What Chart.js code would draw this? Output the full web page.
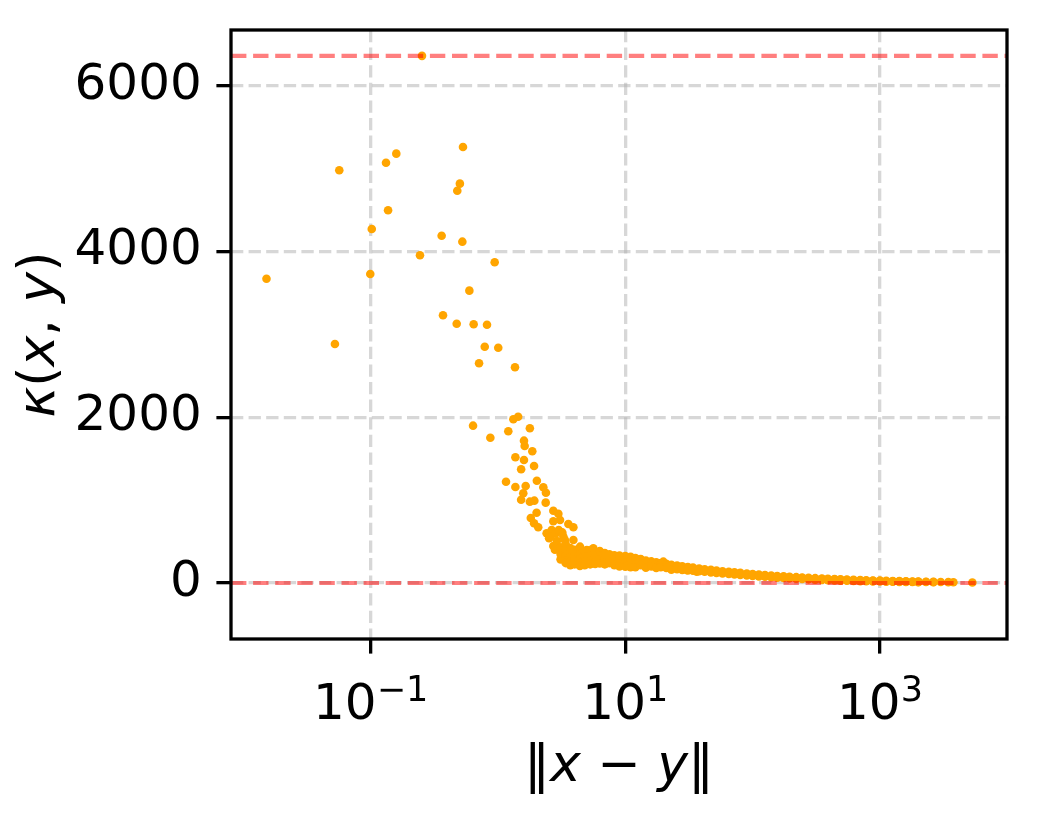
<!DOCTYPE html>
<html>
<head>
<meta charset="utf-8">
<script src="https://cdn.jsdelivr.net/npm/chart.js@4.4.1/dist/chart.umd.min.js"></script>
<style>
  html, body { margin: 0; padding: 0; background: #fff; }
  canvas { display: block; }
</style>
</head>
<body>
<canvas id="kernelChart" width="1037" height="828"></canvas>
<script>
// axis ticks
const xTicks = [0.1, 10, 1000];
const xTickExp = ['\u22121', '1', '3'];
const yTicks = [0, 2000, 4000, 6000];
// dashed red reference lines (kappa = 0 and kappa = max)
const refLines = [0, 6360];

// scattered points, [||x - y||, kappa]
const sparsePoints = [
  [0.253, 6360], [0.531, 5260], [0.159, 5180], [0.132, 5071], [0.0567, 4979],
  [0.502, 4818], [0.479, 4733], [0.137, 4497], [0.102, 4271], [0.361, 4190],
  [0.525, 4118], [0.244, 3954], [0.942, 3869], [0.0152, 3671], [0.0993, 3728],
  [0.596, 3527], [0.370, 3230], [0.474, 3128], [0.644, 3121], [0.820, 3116],
  [0.0524, 2884], [0.787, 2851], [1.005, 2839], [0.710, 2651], [1.36, 2602],
  [1.44, 2006], [1.32, 1975], [0.637, 1898], [1.78, 1866], [1.205, 1830],
  [0.871, 1753], [1.60, 1717], [1.62, 1653], [1.86, 1589], [1.37, 1517],
  [1.60, 1484], [1.92, 1412], [1.52, 1372], [1.156, 1222], [2.02, 1234],
  [1.37, 1158], [1.65, 1170], [2.27, 1155], [1.58, 1082], [2.38, 1089],
  [1.52, 1005], [1.78, 981], [1.93, 993], [2.37, 969], [2.72, 872],
  [2.98, 836], [2.01, 848], [1.81, 784], [1.92, 720], [2.07, 672],
  [2.72, 744], [3.07, 760], [2.64, 639], [2.41, 600], [2.52, 539],
  [3.57, 712], [3.91, 672], [3.26, 559], [2.72, 446], [3.42, 419],
  [3.91, 519], [4.41, 438], [3.68, 358], [4.15, 298], [4.98, 398],
  [5.61, 419], [5.45, 317], [6.33, 298], [7.14, 238], [8.56, 277],
  [10.9, 298], [13.1, 286], [11.6, 197], [16.6, 217], [19.9, 257],
  [23.8, 197], [30.3, 157], [36.4, 136], [2.85, 600], [2.9, 505],
  [2.6, 560], [3.0, 640], [3.2, 610], [3.35, 520], [2.8, 400]
];

// dense tail: distance and the kappa values seen at that distance
const tailDist = [
  3.1, 3.4, 3.7, 4.0, 4.4, 4.8, 5.3, 5.8, 6.3, 6.9, 7.5, 8.2, 9.0, 10, 11, 12,
  13.2, 14.5, 16, 17.5, 19, 21, 23, 25.5, 28, 31, 34, 38, 42, 47, 52, 58, 65,
  72, 80, 90, 100, 112, 125, 140, 156, 175, 195, 220, 245, 275, 310, 350, 390,
  440, 490, 550, 620, 700, 780, 880, 1000, 1120, 1260, 1420, 1600, 1800, 2000,
  2300, 2630, 3000, 3445, 3774, 5320
];
const tailKappa = [
  [430, 350, 285], [470, 400, 330, 265, 240], [420, 380, 310, 260, 215],
  [400, 340, 280, 225], [410, 350, 290, 240, 205], [380, 320, 260, 215],
  [395, 330, 270, 225], [370, 310, 255, 230], [385, 330, 280, 235],
  [360, 300, 250, 225], [345, 290, 240], [335, 285, 245, 215],
  [330, 275, 230, 200], [325, 280, 240, 195], [315, 265, 225, 190],
  [300, 255, 220, 190], [290, 250, 215], [270, 240, 205, 185], [260, 230, 200],
  [250, 225, 195, 180], [240, 215, 190], [230, 205, 180], [220, 200, 175, 160],
  [210, 190, 165], [200, 180, 158], [192, 172, 152], [185, 165, 148],
  [175, 158, 142], [165, 150, 135], [158, 142, 128], [150, 135, 120],
  [142, 128, 114], [135, 120, 108], [128, 115, 102], [122, 110, 96],
  [115, 104, 92], [108, 98, 86], [102, 92, 80], [96, 86, 75], [90, 80, 70],
  [85, 75, 65], [80, 70, 60], [75, 66, 56], [70, 62, 52], [66, 58, 48],
  [62, 54, 44], [58, 50, 40], [54, 46, 37], [50, 43, 34], [46, 40, 31],
  [43, 37, 28], [40, 34, 26], [37, 31, 24], [34, 29, 22], [32, 27, 20],
  [30, 25, 18], [28, 23, 17], [26, 21, 15], [24, 19, 14], [22, 18, 13],
  [20, 16, 12], [18, 14, 11], [16, 13, 10], [15, 12], [13, 10], [12], [10],
  [9], [6]
];

const X_MIN = 0.008, X_MAX = 9950;
const Y_MIN = -676, Y_MAX = 6672;

const points = sparsePoints.map(([x, y]) => ({ x, y }));
tailDist.forEach((d, i) => {
  tailKappa[i].forEach(k => points.push({ x: d, y: k }));
});

const FONT = '"DejaVu Sans"';
const xTitleParts = [['\u2016', ''], ['x', 'italic '], [' \u2212 ', ''], ['y', 'italic '], ['\u2016', '']];
const yTitleParts = [['\u03ba', 'italic '], ['(', ''], ['x', 'italic '], [', ', ''], ['y', 'italic '], [')', '']];

function drawParts(ctx, parts, size) {
  let total = 0;
  parts.forEach(([t, st]) => { ctx.font = st + size + 'px ' + FONT; total += ctx.measureText(t).width; });
  let x = -total / 2;
  parts.forEach(([t, st]) => {
    ctx.font = st + size + 'px ' + FONT;
    ctx.fillText(t, x, 0);
    x += ctx.measureText(t).width;
  });
}

const frame = {
  id: 'frame',
  afterDraw(chart) {
    const { ctx, chartArea: a, scales } = chart;
    ctx.save();
    ctx.strokeStyle = '#000';
    ctx.lineWidth = 3.3;
    ctx.strokeRect(a.left, a.top, a.right - a.left, a.bottom - a.top);

    ctx.fillStyle = '#000';
    ctx.textAlign = 'left';
    ctx.textBaseline = 'alphabetic';
    xTicks.forEach((v, i) => {
      const px = scales.x.getPixelForValue(v);
      ctx.font = '50px ' + FONT;
      const wBase = ctx.measureText('10').width;
      ctx.font = '35px ' + FONT;
      const wExp = ctx.measureText(xTickExp[i]).width;
      const x0 = px - (wBase + wExp) / 2;
      ctx.font = '50px ' + FONT;
      ctx.fillText('10', x0, 719);
      ctx.font = '35px ' + FONT;
      ctx.fillText(xTickExp[i], x0 + wBase, 701);
    });

    ctx.save();
    ctx.translate((a.left + a.right) / 2, 781);
    drawParts(ctx, xTitleParts, 52);
    ctx.restore();

    ctx.save();
    ctx.translate(54, (a.top + a.bottom) / 2);
    ctx.rotate(-Math.PI / 2);
    drawParts(ctx, yTitleParts, 52);
    ctx.restore();
    ctx.restore();
  }
};

const gridOpts = {
  color: 'rgba(176,176,176,0.5)',
  lineWidth: 3.3,
  tickLength: 14.6,
  tickWidth: 3.3,
  tickColor: '#000'
};

new Chart(document.getElementById('kernelChart'), {
  type: 'scatter',
  data: {
    datasets: [
      ...refLines.map(v => ({
        type: 'line',
        data: [{ x: X_MIN, y: v }, { x: X_MAX, y: v }],
        showLine: true,
        borderColor: 'rgba(255,0,0,0.5)',
        borderWidth: 4.17,
        borderDash: [15.4, 6.7],
        pointRadius: 0,
        order: 0
      })),
      {
        data: points,
        backgroundColor: '#FFA500',
        borderWidth: 0,
        pointRadius: 4.3,
        pointHoverRadius: 4.3,
        order: 1
      }
    ]
  },
  options: {
    responsive: false,
    animation: false,
    devicePixelRatio: 1,
    events: [],
    layout: { padding: { left: 0, top: 30, right: 30, bottom: 0 } },
    plugins: { legend: { display: false }, tooltip: { enabled: false } },
    scales: {
      x: {
        type: 'logarithmic',
        min: X_MIN,
        max: X_MAX,
        afterBuildTicks: s => { s.ticks = xTicks.map(v => ({ value: v, major: true })); },
        afterFit: s => { s.height = 189; s.paddingLeft = 0; s.paddingRight = 0; },
        ticks: { display: false },
        grid: gridOpts,
        border: { display: false, dash: [12.3, 5.3] }
      },
      y: {
        min: Y_MIN,
        max: Y_MAX,
        afterBuildTicks: s => { s.ticks = yTicks.map(v => ({ value: v })); },
        afterFit: s => { s.width = 231; s.paddingTop = 0; s.paddingBottom = 0; },
        ticks: {
          color: '#000',
          padding: 14.6,
          font: { family: 'DejaVu Sans', size: 50 },
          callback: v => String(v)
        },
        grid: gridOpts,
        border: { display: false, dash: [12.3, 5.3] }
      }
    }
  },
  plugins: [frame]
});
</script>
</body>
</html>
